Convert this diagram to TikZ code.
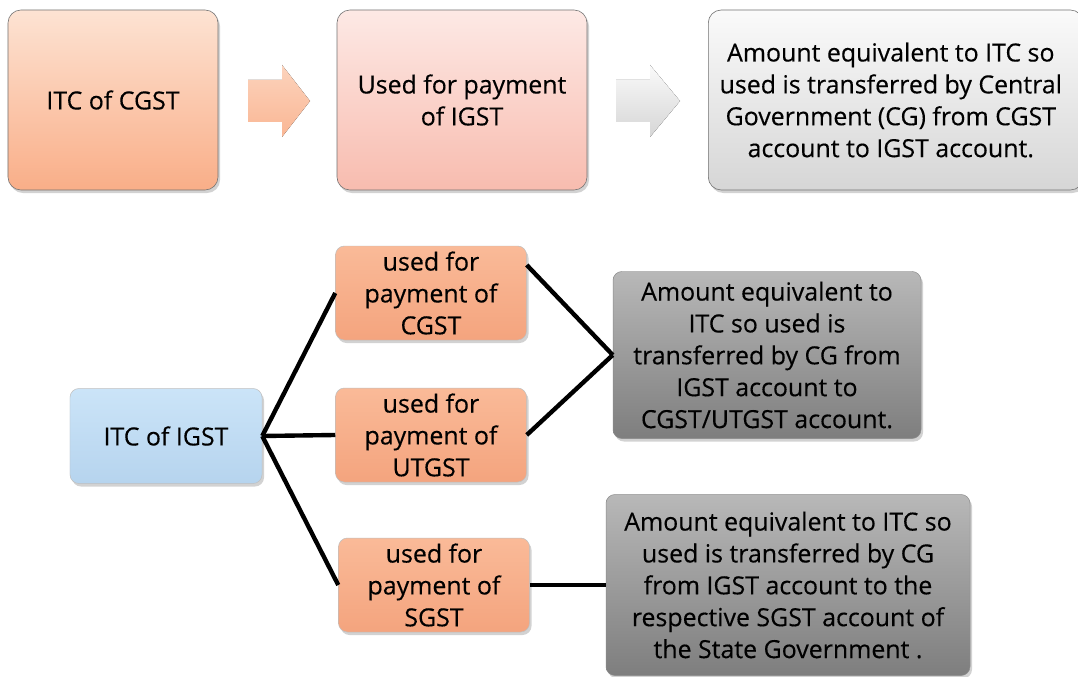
\documentclass[tikz,border=0pt]{standalone}
\usepackage{fontspec}
\setmainfont{Open Sans}[FakeBold=0.3]
\usetikzlibrary{shadows}
\definecolor{aTop}{HTML}{FDE3D3}
\definecolor{aBot}{HTML}{F9AE88}
\definecolor{bTop}{HTML}{FDE9E5}
\definecolor{bBot}{HTML}{F8BCAF}
\definecolor{cTop}{HTML}{FAFAFA}
\definecolor{cBot}{HTML}{D6D6D6}
\definecolor{blTop}{HTML}{CBE4F8}
\definecolor{blBot}{HTML}{B6D4EE}
\definecolor{orTop}{HTML}{FABA98}
\definecolor{orBot}{HTML}{F4A47E}
\definecolor{gyTop}{HTML}{B8B8B8}
\definecolor{gyBot}{HTML}{7E7E7E}
\tikzset{
  base/.style={rounded corners=13pt, align=center, inner sep=2pt,
    font=\fontsize{25}{32}\selectfont,
    drop shadow={shadow xshift=2bp, shadow yshift=-3bp, opacity=0.35}},
  topbox/.style={base, draw=black!55, line width=0.6pt, minimum height=180bp},
  botbox/.style={base, rounded corners=9pt, draw=black!25, line width=0.5pt},
  orbox/.style={botbox, top color=orTop, bottom color=orBot, minimum width=191bp, minimum height=94bp},
  gybox/.style={botbox, top color=gyTop, bottom color=gyBot, draw=black!45},
  conn/.style={line width=4.4pt, black}
}
\begin{document}
\begin{tikzpicture}[x=1bp,y=-1bp]
\useasboundingbox[fill=white] (0,0) rectangle (1078,677);
% top row
\node[topbox, top color=aTop, bottom color=aBot, minimum width=210bp] (a) at (113,100) {ITC of CGST};
\node[topbox, top color=bTop, bottom color=bBot, minimum width=250bp] (b) at (462,100) {Used for payment\\of IGST};
\node[topbox, top color=cTop, bottom color=cBot, minimum width=375bp, anchor=west] (c) at (708,100) {\hspace*{-10bp}Amount equivalent to ITC so\\\hspace*{-10bp}used is transferred by Central\\\hspace*{-10bp}Government (CG) from CGST\\\hspace*{-10bp}account to IGST account.};
\coordinate (ar1) at (248,101);
\coordinate (ar2) at (616,101);
\fill[top color=aTop!70!aBot, bottom color=aBot!90!white]
  (ar1) ++(0,-21) -- ++(34,0) -- ++(0,-15) -- ++(28,36) -- ++(-28,36) -- ++(0,-15) -- ++(-34,0) -- cycle;
\fill[top color=cTop, bottom color=cBot]
  (ar2) ++(0,-21) -- ++(34,0) -- ++(0,-15) -- ++(30,36) -- ++(-30,36) -- ++(0,-15) -- ++(-34,0) -- cycle;
% bottom
\node[botbox, top color=blTop, bottom color=blBot, minimum width=192bp, minimum height=95bp] (igst) at (166,436) {ITC of IGST};
\node[orbox] (cgst) at (431,293) {used for\\payment of\\CGST};
\node[orbox] (utgst) at (431,435) {used for\\payment of\\UTGST};
\node[orbox] (sgst) at (434,585) {used for\\payment of\\SGST};
\node[gybox, minimum width=308bp, minimum height=167bp] (g1) at (767,355) {Amount equivalent to\\ITC so used is\\transferred by CG from\\IGST account to\\CGST/UTGST account.};
\node[gybox, minimum width=364bp, minimum height=181bp] (g2) at (788,585) {Amount equivalent to ITC so\\used is transferred by CG\\from IGST account to the\\respective SGST account of\\the State Government .};
% connectors
\draw[conn] (igst.east) -- (cgst.west);
\draw[conn] (igst.east) -- (utgst.west);
\draw[conn] (igst.east) -- (sgst.west);
\draw[conn] ([yshift=28bp]cgst.east) -- (g1.west);
\draw[conn] (utgst.east) -- (g1.west);
\draw[conn] (sgst.east) -- (g2.west);
\end{tikzpicture}
\end{document}
